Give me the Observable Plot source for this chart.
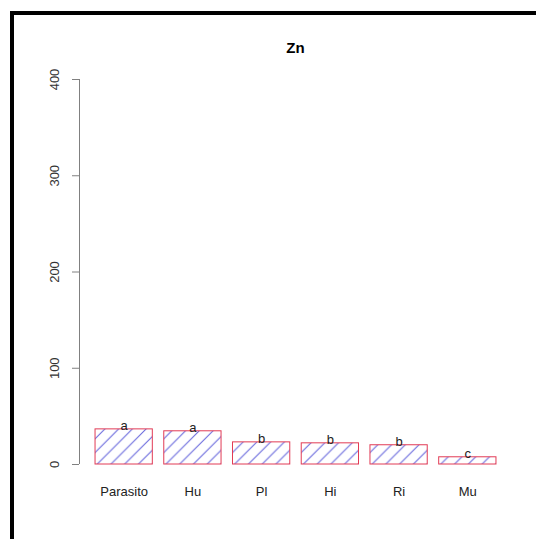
<!DOCTYPE html>
<html><head><meta charset="utf-8">
<script src="https://cdn.jsdelivr.net/npm/d3@7"></script>
<script src="https://cdn.jsdelivr.net/npm/@observablehq/plot@0.6"></script>
<style>
html,body{margin:0;padding:0;background:#fff;overflow:hidden}
#wrap{position:relative;width:536px;height:539px;overflow:hidden;font-family:"Liberation Sans",Arial,Helvetica,sans-serif;background:#fff}
#frame{position:absolute;left:10px;top:11px;width:600px;height:600px;border-top:4px solid #000;border-left:4px solid #000;box-sizing:border-box;pointer-events:none}
#title{position:absolute;left:79px;width:433px;top:40px;text-align:center;font-weight:bold;font-size:15px;line-height:15px;color:#000}
#chart{position:absolute;left:0;top:0}
</style></head><body>
<div id="wrap"><div id="chart"></div><div id="frame"></div><div id="title"></div></div>
<script>
const title = "Zn";
const categories = ["Parasito", "Hu", "Pl", "Hi", "Ri", "Mu"];
const values = [36.5, 34.5, 23, 22, 20, 7.5];
const groups = ["a", "a", "b", "b", "b", "c"];
const yTicks = [0, 100, 200, 300, 400];

// R barplot geometry (width 1, space 0.2), hatch spacing in x units
const barWidth = 1, barSpace = 0.2, hatchStep = 0.24;

const data = categories.map((c, i) => {
  const x1 = barSpace + i * (barWidth + barSpace);
  return {cat: c, value: values[i], group: groups[i], x1, x2: x1 + barWidth, xm: x1 + barWidth / 2};
});
const xmin = data[0].x1, xmax = data[data.length - 1].x2, pad = (xmax - xmin) * 0.04;
const xDomain = [xmin - pad, xmax + pad];

const font = '"Liberation Sans", Arial, Helvetica, sans-serif';
const plot = Plot.plot({
  width: 536, height: 539,
  marginLeft: 79, marginRight: 24, marginTop: 79, marginBottom: 75,
  x: {domain: xDomain, axis: null},
  y: {domain: [yTicks[0], yTicks[yTicks.length - 1]], axis: null},
  style: {fontFamily: font, fontSize: "13px", background: "transparent", overflow: "visible"},
  marks: [
    Plot.rectY(data, {x1: "x1", x2: "x2", y1: 0, y2: "value", fill: "url(#hatch)", stroke: "#e23b55", strokeWidth: 1}),
    Plot.ruleX([xDomain[0]], {y1: yTicks[0], y2: yTicks[yTicks.length - 1], stroke: "#808080"}),
    Plot.axisY({ticks: yTicks, tickSize: 7, tickFormat: () => "", label: null, stroke: "#808080"}),
    Plot.text(yTicks, {y: d => d, text: d => String(d), frameAnchor: "left", dx: -20.5, rotate: -90, textAnchor: "middle", lineAnchor: "bottom", fill: "#333"}),
    Plot.text(data, {x: "xm", text: "cat", frameAnchor: "bottom", dy: 31, lineAnchor: "bottom", fill: "#222"}),
    Plot.text(data, {x: "xm", y: "value", text: "group", lineAnchor: "bottom", dy: 1, fill: "#222"})
  ]
});

// hatch pattern (45°, blue), phase aligned like R's polygon hatching
const xs = plot.scale("x"), ys = plot.scale("y");
const px0 = xs.apply(0), py0 = ys.apply(0);
const P = xs.apply(hatchStep) - xs.apply(0);
const phase = (((px0 + py0) % P) + P) % P;
const ns = "http://www.w3.org/2000/svg";
const defs = document.createElementNS(ns, "defs");
const pat = document.createElementNS(ns, "pattern");
pat.setAttribute("id", "hatch");
pat.setAttribute("patternUnits", "userSpaceOnUse");
pat.setAttribute("width", P);
pat.setAttribute("height", P);
pat.setAttribute("patternTransform", `translate(${phase},0)`);
const bg = document.createElementNS(ns, "rect");
bg.setAttribute("width", P); bg.setAttribute("height", P); bg.setAttribute("fill", "#fff");
pat.appendChild(bg);
for (const [a, b, c, d] of [[0, P, P, 0], [-1, 1, 1, -1], [P - 1, P + 1, P + 1, P - 1]]) {
  const l = document.createElementNS(ns, "line");
  l.setAttribute("x1", a); l.setAttribute("y1", b); l.setAttribute("x2", c); l.setAttribute("y2", d);
  l.setAttribute("stroke", "#6464dc"); l.setAttribute("stroke-width", 1);
  pat.appendChild(l);
}
defs.appendChild(pat);
plot.insertBefore(defs, plot.firstChild);

document.getElementById("chart").appendChild(plot);
document.getElementById("title").textContent = title;
</script>
</body></html>
